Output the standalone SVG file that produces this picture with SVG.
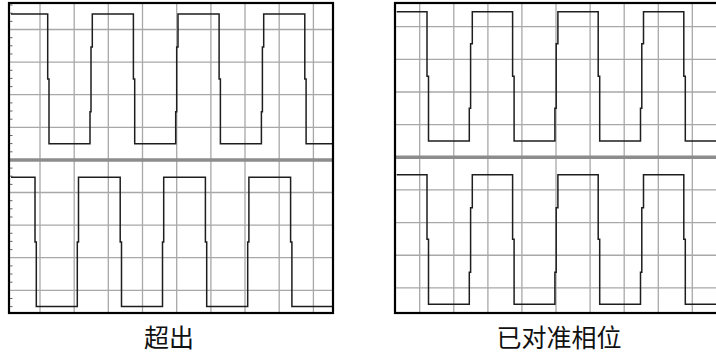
<svg xmlns="http://www.w3.org/2000/svg" width="716" height="352" viewBox="0 0 716 352">
<style>
.bg{fill:#fff}
.grid{stroke:#a8a8a8;stroke-width:1.3;fill:none}
.center{stroke:#8c8c8c;stroke-width:3.4;fill:none}
.frame{stroke:#000;stroke-width:2.2;fill:none}
.wave{stroke:#1e1e1e;stroke-width:1.5;fill:none;stroke-linejoin:miter}
.tick{stroke:#666;stroke-width:1;fill:none}
.label{font-family:"Noto Sans CJK SC","Noto Sans",sans-serif;font-size:25px;fill:#111;text-anchor:middle}
</style>
<rect class="bg" x="0" y="0" width="716" height="352"/>

<g id="left-panel">
  <path class="grid" d="M40,3V313M74.2,3V313M108.3,3V313M142.5,3V313M176.7,3V313M210.9,3V313M245,3V313M279.2,3V313M313.4,3V313"/>
  <path class="grid" d="M9,29.5H333M9,62.1H333M9,94.7H333M9,127.3H333M9,192.5H333M9,225.1H333M9,257.7H333M9,290.3H333"/>
  <path class="center" d="M9,160H333"/>
  <path class="tick" d="M10,5H12.5M10,13.2H12.5M10,21.4H12.5M10,37.7H12.5M10,45.8H12.5M10,54H12.5M10,70.3H12.5M10,78.4H12.5M10,86.6H12.5M10,102.9H12.5M10,111H12.5M10,119.2H12.5M10,135.5H12.5M10,143.6H12.5M10,151.8H12.5M10,168.1H12.5M10,176.2H12.5M10,184.4H12.5M10,200.7H12.5M10,208.8H12.5M10,217H12.5M10,233.3H12.5M10,241.4H12.5M10,249.6H12.5M10,265.9H12.5M10,274H12.5M10,282.2H12.5M10,298.5H12.5M10,306.6H12.5"/>
  <path id="left-top-wave" class="wave" d="M11,14H47.7V79H49V143.7H90V111.7H91V47H92.3V14H133.4V79H134.7V143.7H175.7V111.7H176.7V47H178V14H219.1V79H220.4V143.7H261.4V111.7H262.4V47H263.7V14H304.8V79H306.1V143.7H332"/>
  <path id="left-bottom-wave" class="wave" d="M11,177.3H35V242H36.3V306.5H77.3V242H78.5V177.3H120.2V242H121.5V306.5H162.5V242H163.7V177.3H205.4V242H206.7V306.5H247.7V242H248.9V177.3H290.6V242H291.9V306.5H332"/>
  <rect class="frame" x="9" y="3" width="324" height="310"/>
</g>

<g id="right-panel">
  <path class="grid" d="M419.7,3V313M453.8,3V313M487.9,3V313M521.9,3V313M556,3V313M590.1,3V313M624.2,3V313M658.3,3V313M692.3,3V313"/>
  <path class="grid" d="M395,26.7H719M395,59.35H719M395,92H719M395,124.65H719M395,189.95H719M395,222.6H719M395,255.25H719M395,287.9H719"/>
  <path class="center" d="M395,157.3H719"/>
  <path id="right-top-wave" class="wave" d="M396.7,11.7H427V76.3H428.5V141H469.3V108.3H470.6V43.7H472.3V11.7H512.6V76.3H514.1V141H554.9V108.3H556.2V43.7H557.9V11.7H598.2V76.3H599.7V141H640.5V108.3H641.8V43.7H643.5V11.7H683.8V76.3H685.3V141H720"/>
  <path id="right-bottom-wave" class="wave" d="M396.7,174.7H427V239.3H428.5V304.3H469.3V272.3H470.6V207.7H472.3V174.7H512.6V239.3H514.1V304.3H554.9V272.3H556.2V207.7H557.9V174.7H598.2V239.3H599.7V304.3H640.5V272.3H641.8V207.7H643.5V174.7H683.8V239.3H685.3V304.3H720"/>
  <rect class="frame" x="395" y="3" width="324" height="310"/>
</g>

<g id="labels">
  <text class="label" x="169" y="346.5">超出</text>
  <text class="label" x="559" y="346.5">已对准相位</text>
</g>
</svg>
